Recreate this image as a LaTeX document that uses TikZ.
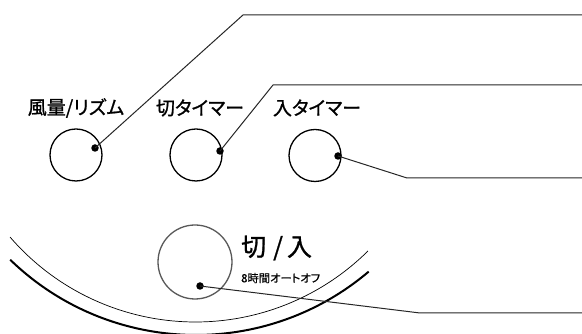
\documentclass[tikz,border=0pt]{standalone}
\usepackage{fontspec}
\newfontfamily\jp[RawFeature=+palt,FakeBold=1.0]{Noto Sans CJK JP}
\newfontfamily\jpsmall[RawFeature=+palt,FakeBold=0.6]{Noto Sans CJK JP}
\begin{document}
\begin{tikzpicture}[x=1pt,y=1pt,
  btn/.style={circle,draw=black,line width=1.3pt,minimum size=52pt,inner sep=0pt},
  bigbtn/.style={circle,draw=black!65,line width=1.3pt,minimum size=74pt,inner sep=0pt},
  dotn/.style={circle,fill=black,inner sep=0pt,minimum size=7.5pt},
  lead/.style={line width=1pt,draw=black!85},
  lbl/.style={font=\jp\fontsize{19}{19}\selectfont,inner sep=0pt},
  biglbl/.style={font=\jp\fontsize{25}{25}\selectfont,inner sep=0pt,anchor=west},
  smalllbl/.style={font=\jpsmall\fontsize{11.3}{11.3}\selectfont,inner sep=0pt,anchor=west},
  thinarc/.style={line width=0.7pt},
  thickarc/.style={line width=2pt}]
\useasboundingbox (0,0) rectangle (582,334);

% arcs
\draw[thinarc] (195.5,257) ++(220.8:245) arc[start angle=220.8,end angle=314.75,radius=245];
\draw[thickarc] (196,266) ++(225.9:267) arc[start angle=225.9,end angle=310.3,radius=267];

% buttons
\node[btn] (b1) at (76,179) {};
\node[btn] (b2) at (196,179) {};
\node[btn] (b3) at (315,178.5) {};
\node[bigbtn] (b4) at (195,72) {};

% labels
\node[lbl] (t1) at (76,226) {風量/リズム};
\node[lbl] (t2) at (200,226) {切タイマー};
\node[lbl] (t3) at (317,226) {入タイマー};
\node[biglbl] (t4) at (241,86) {切\hspace{7pt}/\hspace{4pt}入};
\node[smalllbl] (t5) at (241,56) {8時間オートオフ};

% dots
\node[dotn] (d1) at (95,186) {};
\node[dotn] (d2) at (220,183) {};
\node[dotn] (d3) at (338,178) {};
\node[dotn] (d4) at (200,48) {};

% leader corners and ends
\coordinate (c1) at (243,319);
\coordinate (e1) at (582,319);
\coordinate (c2) at (273,249);
\coordinate (e2) at (582,249);
\coordinate (c3) at (407,156);
\coordinate (e3) at (582,156);
\coordinate (c4) at (420,21);
\coordinate (e4) at (582,21);

\draw[lead] (d1.center) -- (c1) -- (e1);
\draw[lead] (d2.center) -- (c2) -- (e2);
\draw[lead] (d3.center) -- (c3) -- (e3);
\draw[lead] (d4.center) -- (c4) -- (e4);
\end{tikzpicture}
\end{document}
